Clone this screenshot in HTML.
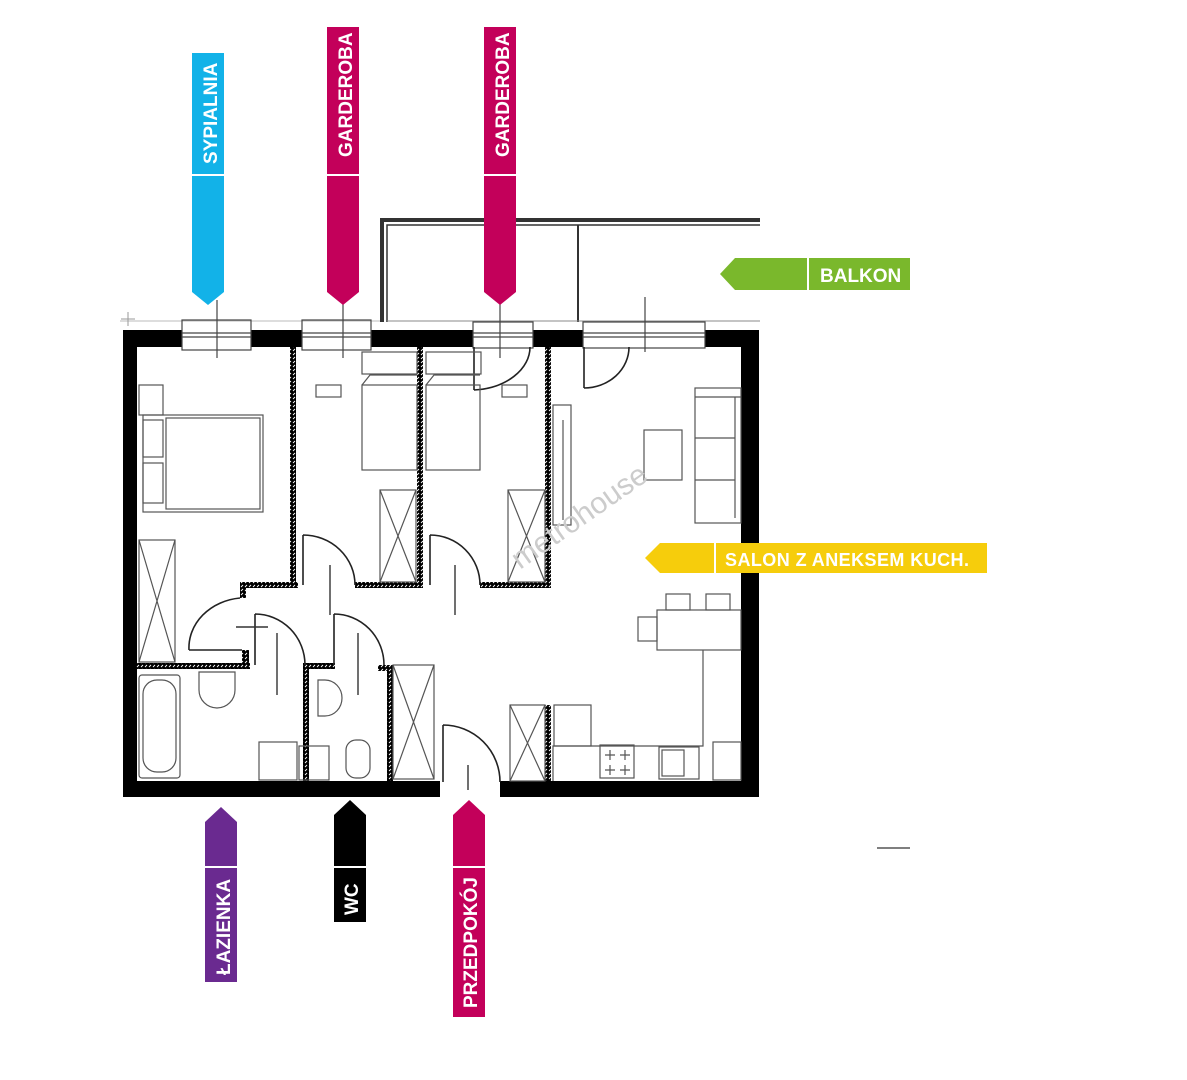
<!DOCTYPE html>
<html><head><meta charset="utf-8"><style>
html,body{margin:0;padding:0;background:#fff;}
svg{display:block;}
text{font-family:"Liberation Sans",sans-serif;font-weight:bold;fill:#fff;}
</style></head><body>
<svg width="1187" height="1080" viewBox="0 0 1187 1080" xmlns="http://www.w3.org/2000/svg">
<defs>
<pattern id="h" width="4" height="4" patternUnits="userSpaceOnUse"><rect width="4" height="4" fill="#000"/><path d="M1 3L3 1" stroke="#fff" stroke-width="0.9"/></pattern>
</defs>
<!-- balcony -->
<g fill="none" stroke="#333">
<path d="M382 322V220H760" stroke-width="4"/>
<path d="M387 322V225H760" stroke-width="1.5"/>
<path d="M578 225V322" stroke-width="2"/>
<path d="M387 321H760" stroke-width="1" stroke="#888"/>
<path d="M120 321H380" stroke-width="1" stroke="#bbb"/>
<path d="M128 312V326M121 319H135" stroke-width="1" stroke="#999"/>
</g>
<!-- outer walls -->
<g fill="#000">
<rect x="123" y="330" width="59" height="17"/>
<rect x="251" y="330" width="51" height="17"/>
<rect x="371" y="330" width="102" height="17"/>
<rect x="533" y="330" width="50" height="17"/>
<rect x="705" y="330" width="54" height="17"/>
<rect x="123" y="330" width="14" height="467"/>
<rect x="741" y="330" width="18" height="467"/>
<rect x="123" y="781" width="317" height="16"/>
<rect x="500" y="781" width="259" height="16"/>
</g>
<!-- windows -->
<g fill="none" stroke="#444" stroke-width="1.2">
<rect x="182" y="320" width="69" height="30"/><path d="M182 333H251M182 337H251"/>
<rect x="302" y="320" width="69" height="30"/><path d="M302 333H371M302 337H371"/>
<rect x="473" y="322" width="60" height="26"/><path d="M473 333H533M473 337H533"/>
<rect x="583" y="322" width="122" height="26"/><path d="M583 333H705M583 337H705"/>
<path d="M217 300V358M343 300V358M500 300V358M645 297V352" stroke="#444"/>
</g>
<!-- interior hatched walls -->
<g fill="url(#h)">
<rect x="290" y="347" width="6" height="241"/>
<rect x="240" y="582" width="58" height="6"/>
<rect x="240" y="582" width="6" height="16"/>
<rect x="355" y="582" width="68" height="6"/>
<rect x="417" y="347" width="6" height="241"/>
<rect x="480" y="582" width="71" height="6"/>
<rect x="545" y="347" width="6" height="241"/>
<rect x="136" y="663" width="114" height="6"/>
<rect x="242" y="650" width="7" height="19"/>
<rect x="303" y="663" width="32" height="6"/>
<rect x="303" y="663" width="6" height="118"/>
<rect x="378" y="665" width="15" height="6"/>
<rect x="387" y="665" width="6" height="116"/>
<rect x="545" y="705" width="6" height="76"/>
</g>
<!-- doors -->
<g fill="none" stroke="#222" stroke-width="1.6">
<path d="M303 535V585M303 535A52 50 0 0 1 355 585"/>
<path d="M430 535V585M430 535A50 50 0 0 1 480 585"/>
<path d="M189 650H242M189 650A57 50 0 0 1 240 598"/>
<path d="M255 614V665M255 614A50 51 0 0 1 305 665"/>
<path d="M334 614V665M334 614A50 51 0 0 1 384 665"/>
<path d="M443 725V782M443 725A57 57 0 0 1 500 782"/>
<path d="M474 347V390M474 390A60 43 0 0 0 530 347"/>
<path d="M584 347V388M584 388A45 41 0 0 0 629 347"/>
<path d="M330 565V615M455 565V615M277 633V695M358 633V695M236 627H268M468 765V790"  stroke="#333" stroke-width="1.4"/>
</g>
<!-- furniture -->
<g fill="none" stroke="#555" stroke-width="1.2">
<rect x="143" y="415" width="120" height="97"/>
<rect x="166" y="418" width="94" height="91"/>
<rect x="143" y="420" width="20" height="37"/><rect x="143" y="463" width="20" height="40"/>
<rect x="139" y="385" width="24" height="30"/>
<rect x="139" y="540" width="36" height="122"/><path d="M139 540L175 662M175 540L139 662"/>
<rect x="139" y="675" width="41" height="103" rx="3"/><rect x="143" y="680" width="33" height="92" rx="14"/>
<rect x="362" y="352" width="55" height="22"/><rect x="362" y="385" width="55" height="85"/><path d="M362 385L370 375H417"/>
<rect x="426" y="352" width="55" height="22"/><rect x="426" y="385" width="54" height="85"/><path d="M426 385L434 375H480"/>
<rect x="316" y="385" width="25" height="12"/><rect x="502" y="385" width="25" height="12"/>
<rect x="380" y="490" width="36" height="92"/><path d="M380 490L416 582M416 490L380 582"/>
<rect x="508" y="490" width="37" height="92"/><path d="M508 490L545 582M545 490L508 582"/>
<rect x="553" y="405" width="18" height="120"/><path d="M563 420V520"/>
<rect x="644" y="430" width="38" height="50"/>
<rect x="695" y="388" width="46" height="135"/><path d="M695 397H741M735 397V518M695 438H735M695 480H735"/>
<rect x="657" y="610" width="84" height="40"/><rect x="638" y="617" width="19" height="24"/>
<rect x="666" y="594" width="24" height="16"/><rect x="706" y="594" width="24" height="16"/>
<path d="M703 650V746H553V781"/>
<rect x="554" y="705" width="37" height="41"/>
<rect x="510" y="705" width="35" height="76"/><path d="M510 705L545 781M545 705L510 781"/>
<rect x="393" y="665" width="41" height="114"/><path d="M393 665L434 779M434 665L393 779"/>
<rect x="600" y="745" width="34" height="33"/><path d="M605 755H615M610 750V760M620 755H630M625 750V760M605 770H615M610 765V775M620 770H630M625 765V775"/>
<rect x="659" y="747" width="40" height="32"/><rect x="662" y="750" width="22" height="26"/>
<rect x="713" y="742" width="28" height="38"/>
<path d="M199 672V690A18 18 0 0 0 235 690V672Z"/>
<path d="M318 680H325A17 18 0 0 1 325 716H318Z"/>
<rect x="346" y="740" width="24" height="38" rx="10"/>
<rect x="259" y="742" width="38" height="38"/>
<rect x="299" y="746" width="30" height="34"/>
</g>
<text x="520" y="570" transform="rotate(-35 520 570)" style="fill:#ccc;font-weight:normal;font-size:30px">metrohouse</text>
<!-- tags -->
<g>
<path d="M192 53H224V292L208 305L192 292Z" fill="#12b2e8"/>
<path d="M327 27H359V292L343 305L327 292Z" fill="#c3005a"/>
<path d="M484 27H516V292L500 305L484 292Z" fill="#c3005a"/>
<path d="M735 258H910V290H735L720 274Z" fill="#7ab82c"/>
<path d="M660 543H987V573H660L645 558Z" fill="#f6cd0c"/>
<path d="M205 822L221 807L237 822V982H205Z" fill="#6a2a90"/>
<path d="M334 815L350 800L366 815V922H334Z" fill="#000"/>
<path d="M453 815L469 800L485 815V1017H453Z" fill="#c3005a"/>
<g stroke="#fff" stroke-width="2">
<path d="M192 175H224M327 175H359M484 175H516M808 258V290M715 543V573M205 867H237M334 867H366M453 867H485"/>
</g>
<text transform="translate(217 164) rotate(-90)" font-size="19">SYPIALNIA</text>
<text transform="translate(352 157) rotate(-90)" font-size="19">GARDEROBA</text>
<text transform="translate(509 157) rotate(-90)" font-size="19">GARDEROBA</text>
<text x="820" y="282" font-size="19">BALKON</text>
<text x="725" y="566" font-size="18" textLength="244">SALON Z ANEKSEM KUCH.</text>
<text transform="translate(230 975) rotate(-90)" font-size="19">ŁAZIENKA</text>
<text transform="translate(358 915) rotate(-90)" font-size="19">WC</text>
<text transform="translate(477 1008) rotate(-90)" font-size="19">PRZEDPOKÓJ</text>
</g>
<path d="M877 848H910" stroke="#555" stroke-width="1.5"/>
</svg>
</body></html>
